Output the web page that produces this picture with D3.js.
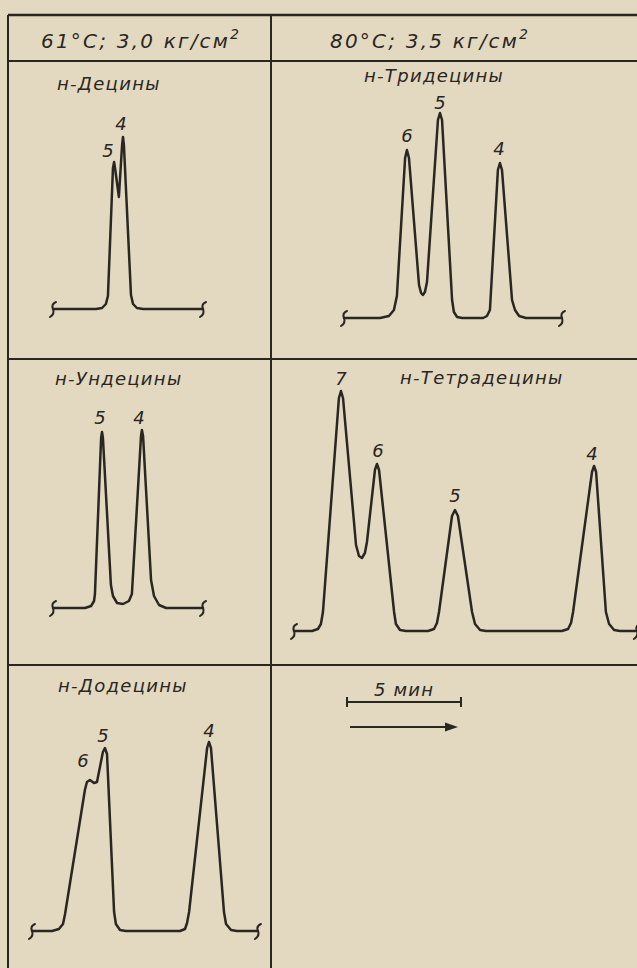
<!DOCTYPE html>
<html><head><meta charset="utf-8">
<script src="https://cdn.jsdelivr.net/npm/d3@7"></script>
<style>
html,body{margin:0;padding:0;background:#e3d9c1;}
svg{display:block}
</style>
</head><body>
<svg id="c" width="637" height="968"></svg>
<script>
// ---------------- DATA ----------------
// header conditions (temperature; pressure)
const headerTexts = ["61°C; 3,0 кг/см", "80°C; 3,5 кг/см"];
const headerSup = ["2", "2"];
// panel titles
const titles = ["н-Децины", "н-Тридецины", "н-Ундецины", "н-Тетрадецины", "н-Додецины"];

// chromatogram traces: [time, min ; signal, rel. units]
const decenes = [[0,0],[1.89,0],[2.15,0.5],[2.32,2.5],[2.41,6.5],[2.63,70.5],[2.68,73.5],[2.72,70.5],[2.89,56],
  [3.03,82],[3.07,86],[3.11,82],[3.42,7],[3.51,2.5],[3.68,0.5],[3.95,0],[6.58,0]];
const tridecenes = [[0,0],[1.58,0],[1.97,1],[2.19,4],[2.32,11],[2.68,80],[2.76,84],[2.85,80],[3.29,16.5],[3.38,12.5],
  [3.46,11.5],[3.55,13],[3.64,18],[4.12,99],[4.21,102.5],[4.30,99],[4.74,9],[4.82,3],[4.96,0.5],[5.18,0],
  [6.10,0],[6.27,1],[6.40,4],[6.75,74],[6.84,77.5],[6.93,74],[7.37,9],[7.50,4],[7.68,1],[7.98,0],[9.56,0]];
const undecenes = [[0,0],[1.40,0],[1.67,1],[1.80,3.5],[1.84,7],[2.11,85],[2.15,88],[2.19,85],[2.54,11.5],[2.63,6],
  [2.81,2.5],[3.07,2],[3.33,3.5],[3.46,7],[3.86,86],[3.90,89],[3.95,86],[4.30,14],[4.43,6],[4.65,1.5],[4.96,0],[6.58,0]];
const tetradecenes = [[0,0],[0.79,0],[1.05,1],[1.18,3.5],[1.27,9.5],[1.97,116.5],[2.06,120],[2.15,116.5],[2.72,43],
  [2.85,37.5],[2.98,36.5],[3.11,39],[3.20,44.5],[3.55,80.5],[3.64,83.5],[3.73,80.5],[4.39,9.5],[4.47,3.5],[4.65,0.5],
  [4.91,0],[5.88,0],[6.14,1],[6.27,4],[6.36,9.5],[6.93,57.5],[7.06,60.5],[7.19,57.5],[7.81,9.5],[7.94,3.5],[8.16,0.5],
  [8.42,0],[11.75,0],[12.02,1],[12.15,4],[12.24,9.5],[13.07,79.5],[13.16,82.5],[13.25,79.5],[13.68,9.5],[13.82,3.5],
  [14.04,0.5],[14.30,0],[15.04,0]];
const dodecenes = [[0,0],[0.88,0],[1.18,1],[1.36,3.5],[1.45,8.5],[2.32,70.5],[2.41,74.5],[2.54,75.5],[2.72,74],
  [2.85,74.5],[3.11,89.5],[3.20,91.5],[3.29,88.5],[3.60,9.5],[3.68,3.5],[3.86,0.5],[4.12,0],[6.49,0],[6.71,1],
  [6.80,4],[6.89,9.5],[7.68,91.5],[7.76,94.5],[7.85,91.5],[8.42,9.5],[8.51,3.5],[8.73,0.5],[8.99,0],[9.91,0]];

// peak labels: [label, time, signal]
const decenesPeaks = [["5",2.41,79.5],["4",2.98,93]];
const tridecenesPeaks = [["6",2.76,91.5],["5",4.21,108],["4",6.80,85]];
const undecenesPeaks = [["5",2.06,95.5],["4",3.77,95.5]];
const tetradecenesPeaks = [["7",2.06,126.5],["6",3.68,90.5],["5",7.06,68],["4",13.07,89]];
const dodecenesPeaks = [["6",2.24,85.5],["5",3.11,98],["4",7.76,100.5]];

// time scale bar
const scaleMinutes = 5;
const scaleLabel = "5 мин";

// ---------------- DRAWING ----------------
const INK = "#2a2622";
const FONT = "'DejaVu Sans', sans-serif";
const PX_PER_MIN = 22.8;
const PX_PER_UNIT = 2;
const svg = d3.select("#c");

svg.append("rect").attr("width",637).attr("height",968).attr("fill","#e3d9c1");

// table grid
const grid = svg.append("g").attr("stroke", INK).attr("fill","none");
[[8,15,637,15,2.6],[8,61,637,61,2],[8,359,637,359,2],[8,665,637,665,2],
 [8,15,8,968,2],[271,15,271,968,2]].forEach(l=>{
  grid.append("line").attr("x1",l[0]).attr("y1",l[1]).attr("x2",l[2]).attr("y2",l[3]).attr("stroke-width",l[4]);
});

// headers
const headerPos = [[41,48],[330,48]];
headerTexts.forEach((t,i)=>{
  const tx = svg.append("text").attr("x",headerPos[i][0]).attr("y",headerPos[i][1])
    .attr("font-family",FONT).attr("font-style","italic").attr("font-size",20)
    .attr("letter-spacing",2.2).attr("fill",INK).text(t);
  tx.append("tspan").attr("dy",-9).attr("font-size",14).text(headerSup[i]);
});

const panels = [
  {data:decenes, peaks:decenesPeaks, title:titles[0], x0:53, base:309, tpos:[57,90]},
  {data:tridecenes, peaks:tridecenesPeaks, title:titles[1], x0:344, base:318, tpos:[364,82]},
  {data:undecenes, peaks:undecenesPeaks, title:titles[2], x0:53, base:608, tpos:[55,385]},
  {data:tetradecenes, peaks:tetradecenesPeaks, title:titles[3], x0:294, base:631, tpos:[400,384]},
  {data:dodecenes, peaks:dodecenesPeaks, title:titles[4], x0:32, base:931, tpos:[58,692]},
];

function breakMark(g, x, y){
  g.append("path")
    .attr("d",`M${x+3},${y-7} Q${x-2},${y-5} ${x},${y} Q${x+2},${y+5} ${x-3},${y+8}`)
    .attr("fill","none").attr("stroke",INK).attr("stroke-width",2).attr("stroke-linecap","round");
}

panels.forEach(p=>{
  const tMax = d3.max(p.data, d=>d[0]);
  const xs = d3.scaleLinear().domain([0,tMax]).range([p.x0, p.x0 + tMax*PX_PER_MIN]);
  const ys = d3.scaleLinear().domain([0,100]).range([p.base, p.base - 100*PX_PER_UNIT]);
  const g = svg.append("g");
  g.append("text").attr("x",p.tpos[0]).attr("y",p.tpos[1])
    .attr("font-family",FONT).attr("font-style","italic").attr("font-size",18)
    .attr("letter-spacing",1.3).attr("fill",INK).text(p.title);
  const line = d3.line().x(d=>xs(d[0])).y(d=>ys(d[1])).curve(d3.curveLinear);
  g.append("path").datum(p.data).attr("d",line).attr("fill","none").attr("stroke",INK)
    .attr("stroke-width",2.5).attr("stroke-linejoin","round").attr("stroke-linecap","round");
  const first = p.data[0], last = p.data[p.data.length-1];
  breakMark(g, xs(first[0]), ys(first[1]));
  breakMark(g, xs(last[0]), ys(last[1]));
  g.selectAll("text.pk").data(p.peaks).join("text").attr("class","pk")
    .attr("x",d=>xs(d[1])).attr("y",d=>ys(d[2]))
    .attr("text-anchor","middle").attr("dominant-baseline","central")
    .attr("font-family",FONT).attr("font-style","italic").attr("font-size",18)
    .attr("fill",INK).text(d=>d[0]);
});

// scale bar
const sx = d3.scaleLinear().domain([0,scaleMinutes]).range([347, 347 + scaleMinutes*PX_PER_MIN]);
const sg = svg.append("g").attr("stroke",INK).attr("stroke-width",2).attr("fill","none");
sg.append("line").attr("x1",sx(0)).attr("x2",sx(scaleMinutes)).attr("y1",702).attr("y2",702);
[0,scaleMinutes].forEach(v=>sg.append("line").attr("x1",sx(v)).attr("x2",sx(v)).attr("y1",697).attr("y2",707));
svg.append("text").attr("x",(sx(0)+sx(scaleMinutes))/2).attr("y",689)
  .attr("text-anchor","middle").attr("dominant-baseline","central")
  .attr("font-family",FONT).attr("font-style","italic").attr("font-size",18)
  .attr("letter-spacing",1.2).attr("fill",INK).text(scaleLabel);
sg.append("line").attr("x1",sx(0)+3).attr("x2",sx(scaleMinutes)-8).attr("y1",727).attr("y2",727);
svg.append("path").attr("d",`M${sx(scaleMinutes)-3},727 L${sx(scaleMinutes)-16},722.5 L${sx(scaleMinutes)-16},731.5 Z`).attr("fill",INK);
</script>
</body></html>
